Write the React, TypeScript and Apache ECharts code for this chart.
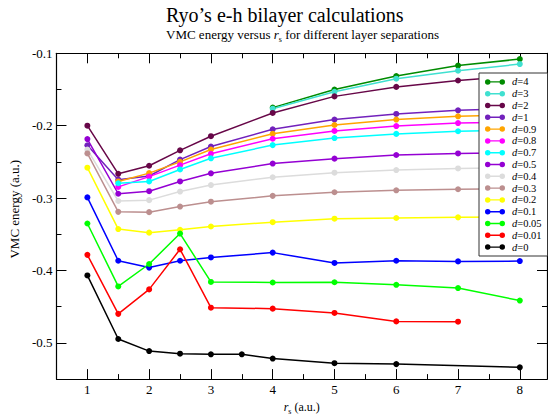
import React, { useEffect, useRef } from "react";
import * as echarts from "echarts";

// r_s values (a.u.) at which energies were computed
const rsValues = [1, 1.5, 2, 2.5, 3, 3.5, 4, 5, 6, 7, 8];

// VMC energies (a.u.) per layer separation d; null = no point
const energyD4 = [null, null, null, null, null, null, -0.175, -0.150, -0.1315, -0.117, -0.108];
const energyD3 = [null, null, null, null, null, null, -0.1765, -0.1532, -0.1351, -0.124, -0.1149];
const energyD2 = [-0.200, -0.2665, -0.2553, -0.234, -0.2145, null, -0.1824, -0.1595, -0.1464, -0.1376, -0.131];
const energyD1 = [-0.227, -0.2745, -0.2695, -0.2468, -0.2288, null, -0.205, -0.1915, -0.1838, -0.1788, -0.176];
const energyD09 = [null, -0.277, -0.2655, -0.25, -0.2329, null, -0.2112, -0.199, -0.1915, -0.187, -0.185];
const energyD08 = [null, -0.2845, -0.2703, -0.2545, -0.2388, null, -0.218, -0.2072, -0.2005, -0.1964, -0.195];
const energyD07 = [null, -0.2795, -0.277, -0.2604, -0.245, null, -0.2268, -0.2171, -0.2113, -0.2077, -0.206];
const energyD05 = [-0.2185, -0.294, -0.2905, -0.277, -0.2658, null, -0.2523, -0.2455, -0.2405, -0.2383, -0.237];
const energyD04 = [-0.233, -0.304, -0.3028, -0.291, -0.282, null, -0.2712, -0.2649, -0.2613, -0.259, -0.258];
const energyD03 = [-0.2383, -0.319, -0.3194, -0.3117, -0.305, null, -0.2969, -0.2919, -0.2892, -0.2878, -0.287];
const energyD02 = [-0.258, -0.3428, -0.3477, -0.3437, -0.3392, null, -0.3333, -0.3284, -0.3275, -0.3266, -0.326];
const energyD01 = [-0.299, -0.3865, -0.396, -0.3865, -0.382, null, -0.3753, -0.3896, -0.3865, -0.3874, -0.387];
const energyD005 = [-0.3351, -0.422, -0.391, -0.349, -0.4158, null, -0.4166, -0.4162, -0.4198, -0.4243, -0.4415];
const energyD001 = [-0.3784, -0.4599, -0.4261, -0.3707, -0.4514, null, -0.4527, -0.4586, -0.4703, -0.4707, null];
const energyD0 = [-0.4068, -0.4946, -0.5113, -0.5149, -0.5158, -0.5158, -0.5216, -0.528, -0.5293, null, -0.5338];

const separations = ["4", "3", "2", "1", "0.9", "0.8", "0.7", "0.5", "0.4", "0.3", "0.2", "0.1", "0.05", "0.01", "0"];
const energies = [
  energyD4, energyD3, energyD2, energyD1, energyD09, energyD08, energyD07, energyD05,
  energyD04, energyD03, energyD02, energyD01, energyD005, energyD001, energyD0,
];
const colors = [
  "#008b00", "#40e0d0", "#670748", "#7221bc", "#ffa500", "#ff00ff", "#00ffff", "#9400d3",
  "#dcdcdc", "#bc8f8f", "#ffff00", "#0000ff", "#00ff00", "#ff0000", "#000000",
];

const xMajorTicks = [1, 2, 3, 4, 5, 6, 7, 8];
const xMinorTicks = [1.5, 2.5, 3.5, 4.5, 5.5, 6.5, 7.5];
const yMajorTicks = [-0.5, -0.4, -0.3, -0.2, -0.1];
const yMinorTicks = [-0.45, -0.35, -0.25, -0.15];

const FONT = '"Liberation Serif", "Times New Roman", serif';
const legendIcon =
  "path://M3,2.25 L19,2.25 L19,3.75 L3,3.75 Z M0,3 A3,3 0 1,1 6,3 A3,3 0 1,1 0,3 Z M16,3 A3,3 0 1,1 22,3 A3,3 0 1,1 16,3 Z";

export default function App() {
  const ref = useRef<HTMLDivElement>(null);

  useEffect(() => {
    if (!ref.current) return;
    const chart = echarts.init(ref.current, undefined, { renderer: "svg" });

    const axisLine = { show: true, lineStyle: { color: "#000", width: 1.2 } };
    const xBase = { type: "value", min: 0.5, max: 8.44, splitLine: { show: false } };
    const yBase = { type: "value", min: -0.55, max: -0.1, splitLine: { show: false } };
    const tick = (values: number[], len: number) => ({
      show: true,
      inside: true,
      length: len,
      customValues: values,
      lineStyle: { color: "#000", width: 1 },
    });

    const series = separations.map((d, i) => ({
      name: "d=" + d,
      type: "line",
      xAxisIndex: 0,
      yAxisIndex: 0,
      data: rsValues
        .map((x, j) => [x, energies[i][j]])
        .filter((p) => p[1] !== null),
      symbol: "circle",
      symbolSize: 6,
      showSymbol: true,
      color: colors[i],
      lineStyle: { width: 1.5, color: colors[i] },
      itemStyle: { color: colors[i] },
      emphasis: { disabled: true },
    }));

    chart.setOption({
      animation: false,
      textStyle: { fontFamily: FONT, color: "#000" },
      title: {
        text: "Ryo\u2019s e-h bilayer calculations",
        subtext: "VMC energy versus {i|r}{sub|s} for different layer separations",
        left: 161,
        top: 0,
        itemGap: 1,
        textStyle: { fontFamily: FONT, fontSize: 20, fontWeight: "normal", color: "#000" },
        subtextStyle: {
          fontFamily: FONT,
          fontSize: 13,
          color: "#000",
          rich: {
            i: { fontFamily: FONT, fontSize: 13, fontStyle: "italic", color: "#000" },
            sub: { fontFamily: FONT, fontSize: 8, color: "#000", padding: [9, 0, 0, 0] },
          },
        },
      },
      legend: {
        orient: "vertical",
        left: 479,
        top: 73,
        padding: [3, 6, 3, 6],
        itemGap: 0,
        itemWidth: 20,
        itemHeight: 6,
        icon: legendIcon,
        backgroundColor: "#fff",
        borderColor: "#333",
        borderWidth: 1,
        data: separations.map((d) => "d=" + d),
        formatter: (name: string) => "{i|d}{t|" + name.slice(1) + "}",
        textStyle: {
          fontFamily: FONT,
          fontSize: 10,
          color: "#000",
          lineHeight: 11.8,
          rich: {
            i: { fontFamily: FONT, fontSize: 10.5, fontStyle: "italic", color: "#000", lineHeight: 11.8, padding: [0, 0, 0, 2] },
            t: { fontFamily: FONT, fontSize: 10.5, color: "#000", lineHeight: 11.8 },
          },
        },
      },
      grid: { left: 50, right: 1, top: 53.3, bottom: 33, containLabel: false },
      xAxis: [
        {
          ...xBase,
          position: "bottom",
          axisLine,
          axisTick: tick(xMajorTicks, 10),
          axisLabel: { customValues: xMajorTicks, fontSize: 13, color: "#000", fontFamily: FONT, margin: 4 },
          name: "{i|r}{sub|s} (a.u.)",
          nameLocation: "middle",
          nameGap: 6,
          nameTextStyle: {
            fontFamily: FONT,
            fontSize: 12,
            color: "#000",
            rich: {
              i: { fontFamily: FONT, fontSize: 12, fontStyle: "italic", color: "#000" },
              t: { fontFamily: FONT, fontSize: 12, color: "#000" },
              sub: { fontFamily: FONT, fontSize: 8, color: "#000", padding: [8, 0, 0, 0] },
            },
          },
        },
        { ...xBase, position: "bottom", axisLine: { show: false }, axisTick: tick(xMinorTicks, 5), axisLabel: { show: false } },
        { ...xBase, position: "top", axisLine, axisTick: tick(xMajorTicks, 10), axisLabel: { show: false } },
        { ...xBase, position: "top", axisLine: { show: false }, axisTick: tick(xMinorTicks, 5), axisLabel: { show: false } },
      ],
      yAxis: [
        {
          ...yBase,
          position: "left",
          axisLine,
          axisTick: tick(yMajorTicks, 10),
          axisLabel: { customValues: yMajorTicks, fontSize: 13, color: "#000", fontFamily: FONT, margin: 4 },
          name: "VMC energy (a.u.)",
          nameLocation: "middle",
          nameRotate: 90,
          nameGap: 31,
          nameTextStyle: { fontFamily: FONT, fontSize: 13, color: "#000", padding: [0, 0, 0, 14] },
        },
        { ...yBase, position: "left", axisLine: { show: false }, axisTick: tick(yMinorTicks, 5), axisLabel: { show: false } },
        { ...yBase, position: "right", axisLine, axisTick: tick(yMajorTicks, 10), axisLabel: { show: false } },
        { ...yBase, position: "right", axisLine: { show: false }, axisTick: tick(yMinorTicks, 5), axisLabel: { show: false } },
      ],
      series,
    });

    return () => chart.dispose();
  }, []);

  return <div ref={ref} style={{ width: 548, height: 420, position: "absolute", left: 0, top: 0 }} />;
}
